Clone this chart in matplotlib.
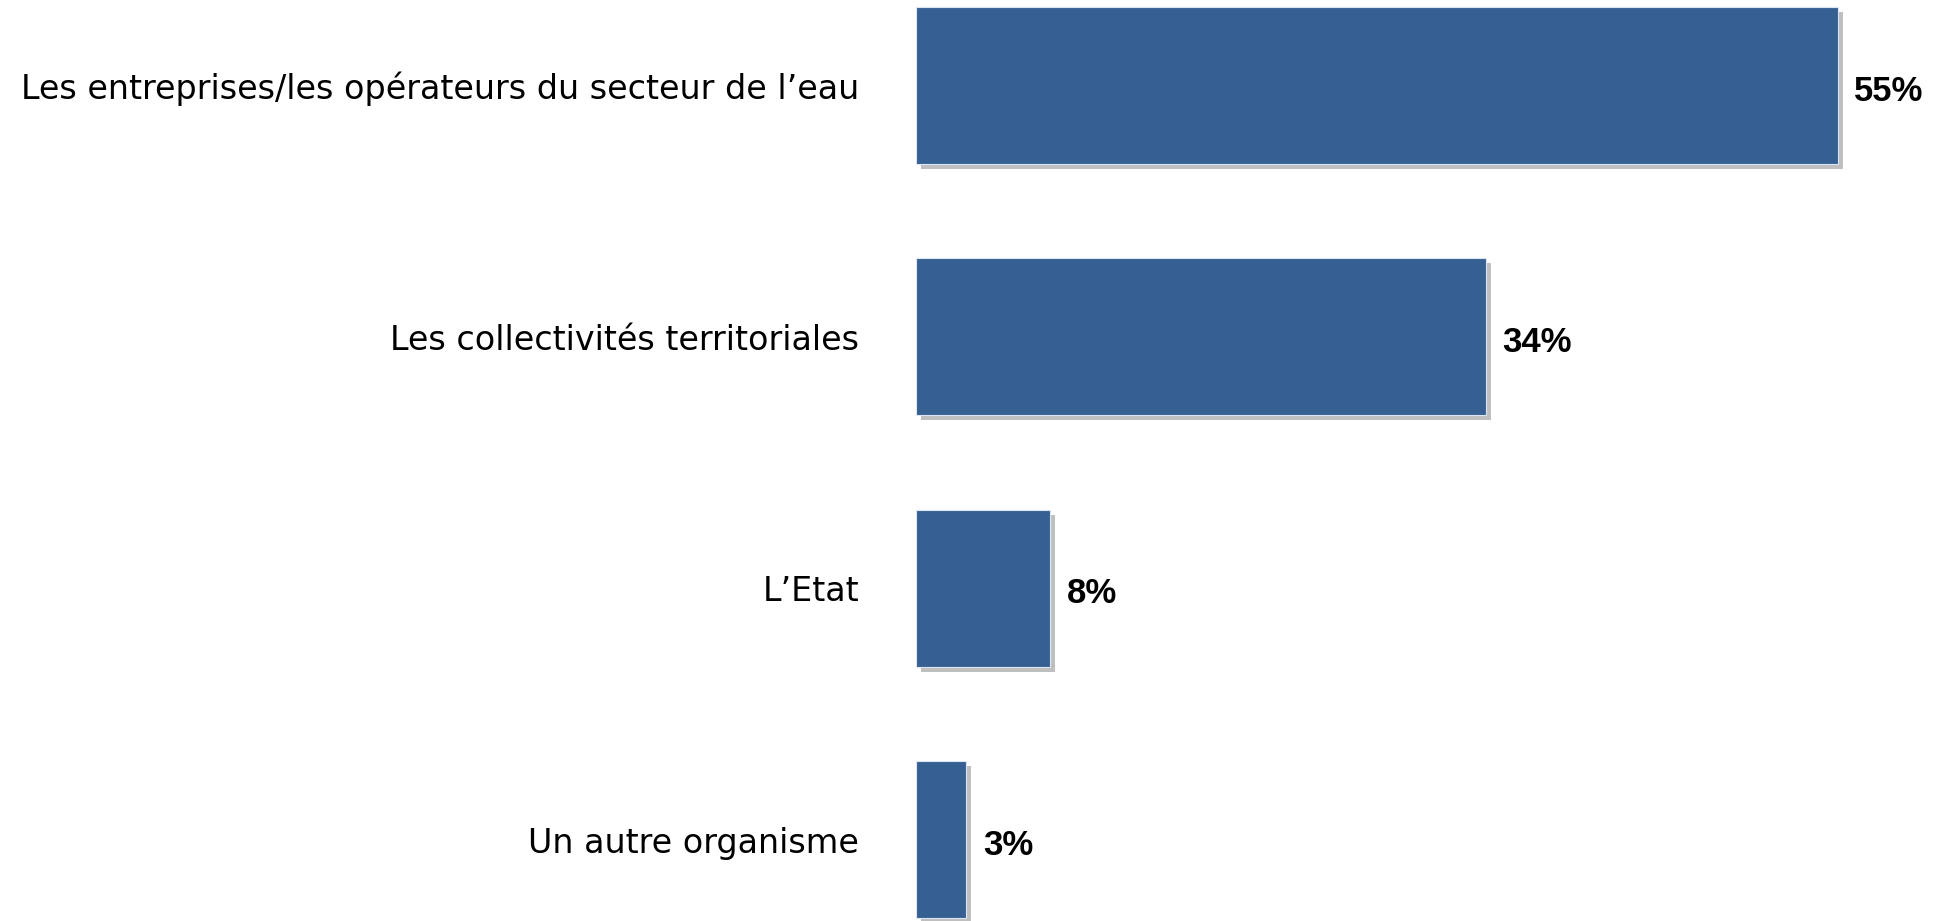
import matplotlib.pyplot as plt
import matplotlib.patheffects as pe

# données
categories = ["Les entreprises/les opérateurs du secteur de l\u2019eau",
              "Les collectivités territoriales",
              "L\u2019Etat",
              "Un autre organisme"]
values = [55, 34, 8, 3]

bar_color = "#366092"

fig = plt.figure(figsize=(19.41, 9.21), dpi=100)
ax = fig.add_axes([916 / 1941, 0, 1005.6 / 1941, 1])

bars = ax.barh(range(len(values)), values, height=0.625, color=bar_color,
               edgecolor="#dce6f2", linewidth=0.8)
for b in bars:
    b.set_path_effects([pe.SimplePatchShadow(offset=(3.5, -3.5), shadow_rgbFace="#BFBFBF", alpha=1.0),
                        pe.Normal()])

for i, v in enumerate(values):
    ax.annotate(f"{v}%", xy=(v, i), xytext=(12, -4), textcoords="offset points",
                va="center", ha="left", fontsize=25, fontweight="bold",
                family="Liberation Sans", color="black")

ax.set_xlim(0, 60)
ax.set_ylim(3.324, -0.34)
ax.set_yticks(range(len(categories)))
ax.set_yticklabels(categories, fontsize=24, family="DejaVu Sans")
for t in ax.get_yticklabels():
    t.set_va("center_baseline")
ax.tick_params(axis="y", length=0, pad=41)
ax.set_xticks([])
for s in ax.spines.values():
    s.set_visible(False)

fig.savefig("out.png", dpi=100)
